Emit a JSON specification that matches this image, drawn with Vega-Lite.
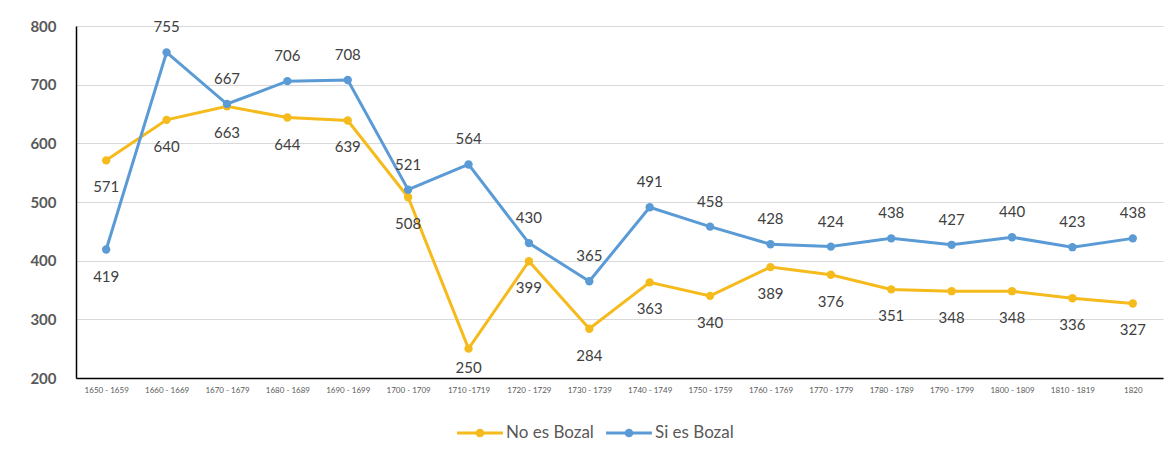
{
  "$schema": "https://vega.github.io/schema/vega-lite/v6.json",
  "autosize": {"type": "none"},
  "width": 1087,
  "height": 352,
  "padding": {"left": 76, "top": 26, "right": 13, "bottom": 80},
  "background": "white",
  "config": {
    "font": "Lato",
    "view": {"stroke": null},
    "axis": {"labelColor": "#595959", "titleColor": "#595959"}
  },
  "data": {
    "values": [
      {"periodo": "1650 - 1659", "serie": "No es Bozal", "valor": 571},
      {"periodo": "1660 - 1669", "serie": "No es Bozal", "valor": 640},
      {"periodo": "1670 - 1679", "serie": "No es Bozal", "valor": 663},
      {"periodo": "1680 - 1689", "serie": "No es Bozal", "valor": 644},
      {"periodo": "1690 - 1699", "serie": "No es Bozal", "valor": 639},
      {"periodo": "1700 - 1709", "serie": "No es Bozal", "valor": 508},
      {"periodo": "1710 -1719", "serie": "No es Bozal", "valor": 250},
      {"periodo": "1720 - 1729", "serie": "No es Bozal", "valor": 399},
      {"periodo": "1730 - 1739", "serie": "No es Bozal", "valor": 284},
      {"periodo": "1740 - 1749", "serie": "No es Bozal", "valor": 363},
      {"periodo": "1750 - 1759", "serie": "No es Bozal", "valor": 340},
      {"periodo": "1760 - 1769", "serie": "No es Bozal", "valor": 389},
      {"periodo": "1770 - 1779", "serie": "No es Bozal", "valor": 376},
      {"periodo": "1780 - 1789", "serie": "No es Bozal", "valor": 351},
      {"periodo": "1790 - 1799", "serie": "No es Bozal", "valor": 348},
      {"periodo": "1800 - 1809", "serie": "No es Bozal", "valor": 348},
      {"periodo": "1810 - 1819", "serie": "No es Bozal", "valor": 336},
      {"periodo": "1820", "serie": "No es Bozal", "valor": 327},
      {"periodo": "1650 - 1659", "serie": "Si es Bozal", "valor": 419},
      {"periodo": "1660 - 1669", "serie": "Si es Bozal", "valor": 755},
      {"periodo": "1670 - 1679", "serie": "Si es Bozal", "valor": 667},
      {"periodo": "1680 - 1689", "serie": "Si es Bozal", "valor": 706},
      {"periodo": "1690 - 1699", "serie": "Si es Bozal", "valor": 708},
      {"periodo": "1700 - 1709", "serie": "Si es Bozal", "valor": 521},
      {"periodo": "1710 -1719", "serie": "Si es Bozal", "valor": 564},
      {"periodo": "1720 - 1729", "serie": "Si es Bozal", "valor": 430},
      {"periodo": "1730 - 1739", "serie": "Si es Bozal", "valor": 365},
      {"periodo": "1740 - 1749", "serie": "Si es Bozal", "valor": 491},
      {"periodo": "1750 - 1759", "serie": "Si es Bozal", "valor": 458},
      {"periodo": "1760 - 1769", "serie": "Si es Bozal", "valor": 428},
      {"periodo": "1770 - 1779", "serie": "Si es Bozal", "valor": 424},
      {"periodo": "1780 - 1789", "serie": "Si es Bozal", "valor": 438},
      {"periodo": "1790 - 1799", "serie": "Si es Bozal", "valor": 427},
      {"periodo": "1800 - 1809", "serie": "Si es Bozal", "valor": 440},
      {"periodo": "1810 - 1819", "serie": "Si es Bozal", "valor": 423},
      {"periodo": "1820", "serie": "Si es Bozal", "valor": 438}
    ]
  },
  "encoding": {
    "x": {
      "field": "periodo",
      "type": "ordinal",
      "sort": null,
      "scale": {"type": "point", "padding": 0.5},
      "axis": {
        "title": null,
        "labelAngle": 0,
        "labelFontSize": 8,
        "labelPadding": 8,
        "ticks": false,
        "domainColor": "#000000",
        "domainWidth": 1.5,
        "grid": false
      }
    },
    "y": {
      "field": "valor",
      "type": "quantitative",
      "scale": {"domain": [200, 800], "nice": false},
      "axis": {
        "title": null,
        "values": [200, 300, 400, 500, 600, 700, 800],
        "labelFontSize": 15,
        "labelFontWeight": "bold",
        "labelPadding": 20,
        "ticks": false,
        "domainColor": "#000000",
        "domainWidth": 1.5,
        "gridColor": "#d9d9d9",
        "gridWidth": 1
      }
    },
    "color": {
      "field": "serie",
      "type": "nominal",
      "scale": {"domain": ["No es Bozal", "Si es Bozal"], "range": ["#F5BA1B", "#5B9BD5"]},
      "legend": {
        "title": null,
        "orient": "none",
        "legendX": 381,
        "legendY": 384,
        "direction": "horizontal",
        "labelFontSize": 17,
        "labelColor": "#595959",
        "labelOffset": 3,
        "columnPadding": 12,
        "symbolType": "M-1,-0.07H1V0.07H-1Z M0.19,0A0.19,0.19 0 1,1 -0.19,0A0.19,0.19 0 1,1 0.19,0Z",
        "symbolSize": 2100,
        "symbolStrokeWidth": 0,
        "encode": {
          "symbols": {"update": {"fill": {"scale": "color", "field": "value"}, "stroke": {"value": "transparent"}, "opacity": {"value": 1}}}
        }
      }
    }
  },
  "layer": [
    {
      "mark": {"type": "line", "strokeWidth": 3, "point": {"filled": true, "size": 70}}
    },
    {
      "transform": [{"filter": "(datum.serie === 'No es Bozal' && datum.periodo !== '1710 -1719') || (datum.serie === 'Si es Bozal' && datum.periodo === '1650 - 1659')"}],
      "mark": {"type": "text", "dy": 27, "fontSize": 15, "color": "#404040"},
      "encoding": {"text": {"field": "valor", "type": "quantitative"}, "color": {"value": "#404040"}}
    },
    {
      "transform": [{"filter": "datum.serie === 'No es Bozal' && datum.periodo === '1710 -1719'"}],
      "mark": {"type": "text", "dy": 19, "fontSize": 15, "color": "#404040"},
      "encoding": {"text": {"field": "valor", "type": "quantitative"}, "color": {"value": "#404040"}}
    },
    {
      "transform": [{"filter": "datum.serie === 'Si es Bozal' && datum.periodo !== '1650 - 1659'"}],
      "mark": {"type": "text", "dy": -25, "fontSize": 15, "color": "#404040"},
      "encoding": {"text": {"field": "valor", "type": "quantitative"}, "color": {"value": "#404040"}}
    }
  ]
}
